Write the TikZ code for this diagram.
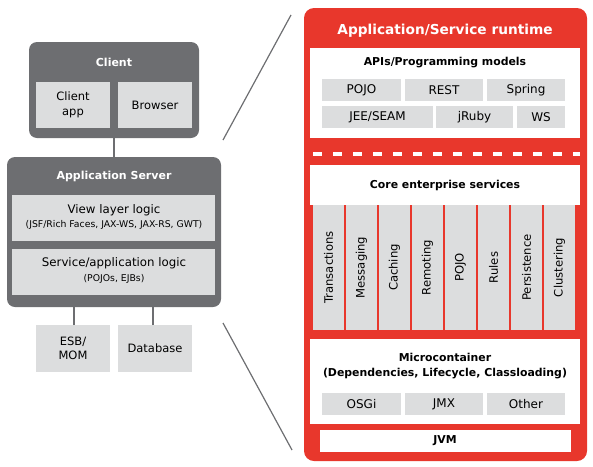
\documentclass[tikz,border=0pt]{standalone}
\usepackage{fontspec}
\setmainfont{DejaVu Sans}
\definecolor{dgray}{HTML}{6D6E71}
\definecolor{lgray}{HTML}{DCDDDE}
\definecolor{rhred}{HTML}{E8372C}
\newcommand\bx[7][]{\node[#1, minimum width={(#5-#3)*1pt}, minimum height={(#6-#4)*1pt}] (#2) at ({(#3+#5)/2},{(#4+#6)/2}) {#7};}
\tikzset{
 base/.style={inner sep=0pt, outer sep=0pt, align=center, font=\fontsize{11.5}{14.5}\selectfont},
 darkbox/.style={base, fill=dgray, rounded corners=8pt},
 graybox/.style={base, fill=lgray},
 itembox/.style={base, fill=lgray, font=\fontsize{12}{14}\selectfont},
 whitebox/.style={base, fill=white},
 redbox/.style={base, fill=rhred, rounded corners=10pt},
 conn/.style={draw=dgray, line width=1.4pt},
 ttl/.style={base, font=\bfseries\fontsize{11}{13}\selectfont, text=white},
 rttl/.style={base, font=\bfseries\fontsize{13.7}{16}\selectfont, text=white},
 btext/.style={base, font=\bfseries\fontsize{10.9}{15}\selectfont},
 txt/.style={base, font=\fontsize{11.8}{14}\selectfont},
 small/.style={base, font=\fontsize{9.3}{11}\selectfont},
 coltext/.style={base, font=\fontsize{11.6}{14}\selectfont, rotate=90},
}
\begin{document}
\begin{tikzpicture}[x=1pt,y=-1pt]
\useasboundingbox (0,0) rectangle (593,466);
% ---------- left side ----------
\bx[darkbox]{client}{29}{42}{199}{138}{}
\node[ttl] (clientT) at (114,62) {Client};
\bx[graybox]{capp}{36}{82}{110}{128}{Client\\app}
\bx[graybox]{browser}{118}{82}{192}{128}{Browser}

\bx[darkbox]{appsrv}{7}{157}{221}{307}{}
\node[ttl] (appT) at (114,176) {Application Server};
\bx[graybox]{view}{12}{195}{215}{241}{}
\node[txt] (viewA) at (114,210) {View layer logic};
\node[small] (viewB) at (114,224.5) {(JSF/Rich Faces, JAX-WS, JAX-RS, GWT)};
\bx[graybox]{svc}{12}{249}{215}{295}{}
\node[txt] (svcA) at (114,263.5) {Service/application logic};
\node[small] (svcB) at (114,278.5) {(POJOs, EJBs)};

\bx[graybox]{esb}{36}{325}{110}{372}{ESB/\\MOM}
\bx[graybox]{db}{118}{325}{192}{372}{Database}

\draw[conn] (client.south) -- (appsrv.north);
\draw[conn] ([xshift=1pt]esb.north) -- ([xshift=1pt]esb.north |- appsrv.south);
\draw[conn] ([xshift=-2pt]db.north) -- ([xshift=-2pt]db.north |- appsrv.south);

\coordinate (d1a) at (223,140);
\coordinate (d1b) at (291,15);
\coordinate (d2a) at (223,323);
\coordinate (d2b) at (292,450);
\draw[conn, line width=1.2pt] (d1a) -- (d1b);
\draw[conn, line width=1.2pt] (d2a) -- (d2b);

% ---------- right side ----------
\bx[redbox]{runtime}{304}{8}{587}{461}{}
\node[rttl] (rtT) at (445,31) {Application/Service runtime};

\bx[whitebox]{apis}{310}{48}{580}{138}{}
\node[btext] (apisT) at (445,63) {APIs/Programming models};
\bx[itembox]{pojo}{322}{79}{401}{101}{POJO}
\bx[itembox]{rest}{405}{79}{483}{101}{REST}
\bx[itembox]{spring}{487}{79}{565}{101}{Spring}
\bx[itembox]{jee}{322}{106}{433}{128}{JEE/SEAM}
\bx[itembox]{jruby}{436}{106}{513}{128}{jRuby}
\bx[itembox]{ws}{517}{106}{565}{128}{WS}

\coordinate (dashA) at (313,154);
\coordinate (dashB) at (580,154);
\draw[white, line width=4pt, dash pattern=on 9pt off 11pt] (dashA) -- (dashB);

\bx[whitebox]{core}{310}{165}{580}{205}{}
\node[btext] (coreT) at (445,185) {Core enterprise services};
\foreach \lab [count=\k] in {Transactions,Messaging,Caching,Remoting,POJO,Rules,Persistence,Clustering}{
  \pgfmathsetmacro\xa{313+33*(\k-1)}
  \pgfmathsetmacro\xb{\xa+31}
  \bx[graybox]{col\k}{\xa}{205}{\xb}{330}{}
  \node[coltext] (colT\k) at (col\k) {\lab};
}

\bx[whitebox]{micro}{310}{339}{580}{424}{}
\node[btext] (microT) at (445,366.5) {Microcontainer\\(Dependencies, Lifecycle, Classloading)};
\bx[itembox]{osgi}{322}{393}{401}{415}{OSGi}
\bx[itembox]{jmx}{405}{393}{483}{415}{JMX}
\bx[itembox]{other}{487}{393}{565}{415}{Other}

\bx[whitebox]{jvm}{320}{430}{571}{452}{}
\node[btext] (jvmT) at (445,441) {JVM};
\end{tikzpicture}
\end{document}
